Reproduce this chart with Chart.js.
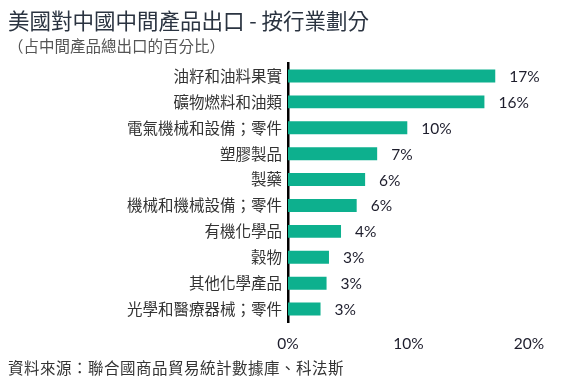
<!DOCTYPE html>
<html>
<head>
<meta charset="utf-8">
<script src="https://cdn.jsdelivr.net/npm/chart.js@4"></script>
<style>
  html, body { margin: 0; padding: 0; background: #fff; }
  #wrap { position: relative; width: 568px; height: 385px; }
  canvas { position: absolute; left: 0; top: 0; }
  .txt { position: absolute; left: 8px; white-space: nowrap; font-family: "Noto Sans CJK TC", sans-serif; }
  #title { top: 4px; font-size: 21.5px; color: #2a3340; }
  #subtitle { top: 34px; font-size: 15.5px; color: #555; }
  #source { top: 356px; font-size: 15.5px; color: #333; letter-spacing: 0.5px; }
</style>
</head>
<body>
<div id="wrap">
  <canvas id="chart" width="568" height="385"></canvas>
  <div class="txt" id="title">美國對中國中間產品出口 - 按行業劃分</div>
  <div class="txt" id="subtitle">（占中間產品總出口的百分比）</div>
  <div class="txt" id="source">資料來源：聯合國商品貿易統計數據庫、科法斯</div>
</div>
<script>
const categories = [
  "油籽和油料果實",
  "礦物燃料和油類",
  "電氣機械和設備；零件",
  "塑膠製品",
  "製藥",
  "機械和機械設備；零件",
  "有機化學品",
  "穀物",
  "其他化學產品",
  "光學和醫療器械；零件"
];
const shares = [17.2, 16.3, 9.9, 7.4, 6.4, 5.7, 4.4, 3.4, 3.2, 2.7];
const xTicks = [0, 10, 20];

// 數值標籤畫在長條右邊
const valueLabels = {
  id: "valueLabels",
  afterDatasetsDraw(chart) {
    const ctx = chart.ctx;
    const meta = chart.getDatasetMeta(0);
    ctx.save();
    ctx.font = "15.5px Lato";
    ctx.fillStyle = "#1d1d2c";
    ctx.textAlign = "left";
    ctx.textBaseline = "middle";
    meta.data.forEach((bar, i) => {
      ctx.fillText(Math.round(shares[i]) + "%", bar.x + 14, bar.y + 1);
    });
    ctx.restore();
  }
};

const ctx = document.getElementById("chart").getContext("2d");
new Chart(ctx, {
  type: "bar",
  data: {
    labels: categories,
    datasets: [{
      data: shares,
      backgroundColor: "#0db08e",
      borderWidth: 0,
      categoryPercentage: 1,
      barPercentage: 0.5
    }]
  },
  options: {
    indexAxis: "y",
    responsive: false,
    animation: false,
    layout: { padding: { left: 0, top: 63, right: 39, bottom: 33 } },
    plugins: {
      legend: { display: false },
      tooltip: { enabled: false }
    },
    scales: {
      x: {
        min: 0,
        max: 20,
        afterBuildTicks(scale) {
          scale.ticks = xTicks.map(v => ({ value: v }));
        },
        afterFit(scale) { scale.height = 30; },
        grid: { display: false },
        border: { display: false },
        ticks: {
          padding: 5,
          color: "#1d1d2c",
          font: { family: "Lato", size: 15.5 },
          callback: v => v + "%"
        }
      },
      y: {
        afterFit(scale) { scale.width = 288; },
        grid: { display: false, drawTicks: false },
        border: { display: true, color: "#000", width: 2.5 },
        ticks: {
          padding: 6,
          color: "#333",
          font: { family: "Noto Sans CJK TC", size: 15.5 }
        }
      }
    }
  },
  plugins: [valueLabels]
});
</script>
</body>
</html>
